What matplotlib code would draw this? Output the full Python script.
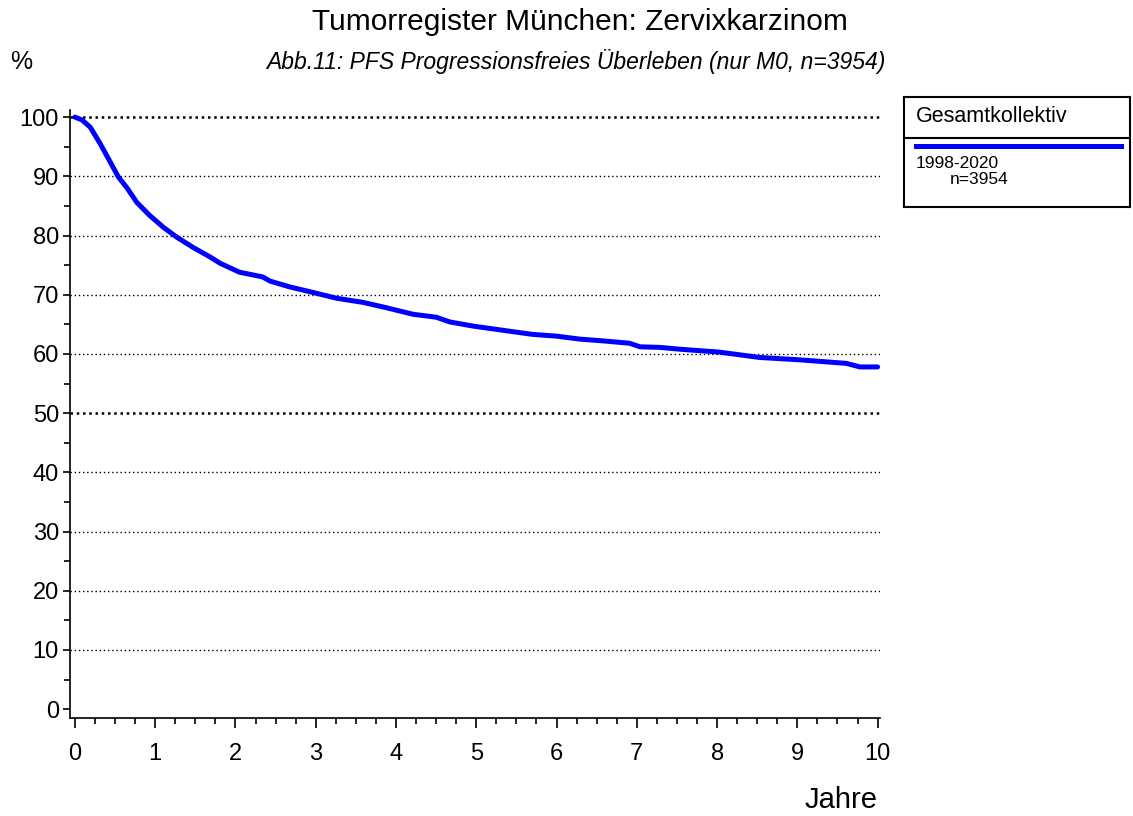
import matplotlib
matplotlib.use("Agg")
import matplotlib.pyplot as plt
from matplotlib.ticker import MultipleLocator

plt.rcParams['font.family'] = ['Liberation Sans', 'DejaVu Sans']

# Kurve (Jahre, % progressionsfrei)
jahre = [0, 0.09, 0.19, 0.31, 0.44, 0.54, 0.65, 0.77, 0.93, 1.10, 1.27, 1.47,
         1.68, 1.81, 2.05, 2.34, 2.43, 2.68, 2.96, 3.26, 3.59, 3.88, 4.21, 4.5,
         4.67, 4.96, 5.38, 5.70, 6.0, 6.29, 6.58, 6.91, 7.04, 7.29, 7.53, 8.03,
         8.53, 9.03, 9.61, 9.78, 10]
pfs = [100, 99.5, 98.3, 95.6, 92.4, 89.9, 88.0, 85.6, 83.4, 81.4, 79.7, 78.0,
       76.4, 75.3, 73.8, 73.0, 72.3, 71.3, 70.4, 69.4, 68.7, 67.8, 66.7, 66.2,
       65.4, 64.7, 63.9, 63.3, 63.0, 62.5, 62.2, 61.8, 61.2, 61.1, 60.8, 60.3,
       59.4, 59.0, 58.4, 57.8, 57.8]
gitter = [10, 20, 30, 40, 50, 60, 70, 80, 90, 100]
x_labels = ['0', '1', '2', '3', '4', '5', '6', '7', '8', '9', '10']

W, H = 1133, 816
fig = plt.figure(figsize=(W / 100, H / 100), dpi=100)
ax = fig.add_axes([70 / W, 1 - 718 / H, 810 / W, 608 / H])

for g in gitter:
    dick = g in (50, 100)
    ax.axhline(g, color='black', lw=1.8 if dick else 1.0,
               linestyle=(0, (1, 1.5)) if dick else (0, (1, 2)), zorder=1)

ax.plot(jahre, pfs, color='#0000ff', lw=3.6, solid_capstyle='round', zorder=3)

ax.set_xlim(-0.062, 10.03)
ax.set_ylim(-1.5, 101.2)
for s in ['top', 'right']:
    ax.spines[s].set_visible(False)
for s in ['left', 'bottom']:
    ax.spines[s].set_linewidth(1.2)

ax.xaxis.set_major_locator(MultipleLocator(1))
ax.xaxis.set_minor_locator(MultipleLocator(0.25))
ax.yaxis.set_major_locator(MultipleLocator(10))
ax.yaxis.set_minor_locator(MultipleLocator(5))
ax.set_xticks(range(11))
ax.set_xticklabels(x_labels)
ax.tick_params(axis='x', which='major', length=7, width=1.2, labelsize=17, pad=11)
ax.tick_params(axis='x', which='minor', length=4, width=1.2)
ax.tick_params(axis='y', which='major', length=5, width=1.2, labelsize=17, pad=3)
ax.tick_params(axis='y', which='minor', length=4, width=1.2)

fig.text(580 / W, 1 - 22 / H, 'Tumorregister München: Zervixkarzinom',
         ha='center', va='center', fontsize=21.5)
fig.text(576 / W, 1 - 62 / H,
         'Abb.11: PFS Progressionsfreies Überleben (nur M0, n=3954)',
         ha='center', va='center', fontsize=16.5, style='italic')
fig.text(10 / W, 1 - 62 / H, '%', ha='left', va='center', fontsize=18)
fig.text(878 / W, 1 - 800 / H, 'Jahre', ha='right', va='center', fontsize=21)

# Legendenkasten
lg = fig.add_axes([904 / W, 1 - 207 / H, 226 / W, 110 / H])
lg.set_xlim(0, 226)
lg.set_ylim(110, 0)
lg.set_xticks([])
lg.set_yticks([])
for s in lg.spines.values():
    s.set_linewidth(1.5)
lg.axhline(41, color='black', lw=1.5)
lg.plot([12, 217], [49, 49], color='#0000ff', lw=3.6)
lg.text(12, 20, 'Gesamtkollektiv', ha='left', va='center', fontsize=15.5)
lg.text(12, 66, '1998-2020', ha='left', va='center', fontsize=12.5)
lg.text(46, 83, 'n=3954', ha='left', va='center', fontsize=12.5)

fig.savefig('out.png', dpi=100)
